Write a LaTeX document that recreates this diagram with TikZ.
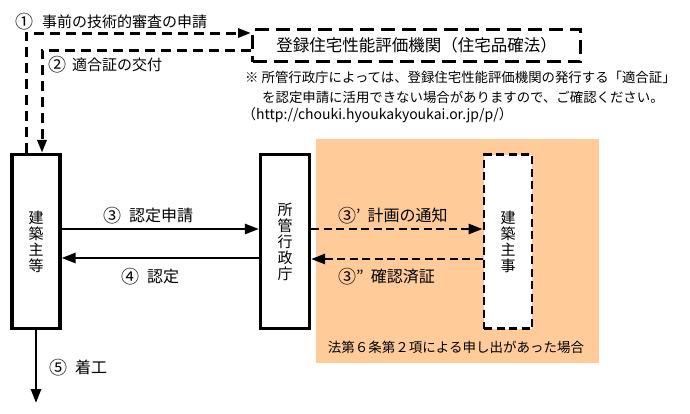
\documentclass[tikz,border=0pt]{standalone}
\usepackage{fontspec}
\setmainfont{Noto Sans CJK JP}
\usetikzlibrary{arrows.meta}
\definecolor{zonecol}{HTML}{FFCC99}
\newcommand\circnum[1]{{\fontsize{18}{18}\selectfont\raisebox{-1pt}{#1}}}
\begin{document}
\begin{tikzpicture}[x=1pt,y=-1pt,
 box/.style={draw, line width=3.2pt, minimum width=48pt, minimum height=174pt, inner sep=0pt, align=center, font=\fontsize{15}{16}\selectfont},
 dbox/.style={box, dash pattern=on 8pt off 4.5pt, line width=2.8pt, fill=white},
 tip/.style={-{Triangle[length=14pt,width=10pt]}},
 solidarrow/.style={tip, line width=2.6pt},
 dasharrow/.style={tip, line width=2.6pt, dash pattern=on 8pt off 4.5pt},
 toparrow/.style={-{Triangle[length=13pt,width=9pt]}, line width=3pt, dash pattern=on 10pt off 6pt},
 lbl/.style={inner sep=0pt, anchor=west, font=\fontsize{16}{18}\selectfont},
 lbls/.style={lbl, font=\fontsize{15}{17}\selectfont},
 note/.style={inner sep=0pt, anchor=west, font=\fontsize{13.4}{15}\selectfont},
]
\useasboundingbox (0,0) rectangle (690,413);
\node[fill=zonecol, minimum width=283pt, minimum height=224pt, inner sep=0pt] (zone) at (457.5,251) {};
\node[box] (kenchi) at (36,241.5) {建\\築\\主\\等};
\node[box, minimum width=49pt] (gyosei) at (285,241.5) {所\\管\\行\\政\\庁};
\node[dbox] (shuji) at (508,241.5) {建\\築\\主\\事};
\node[draw, line width=3pt, dash pattern=on 14pt off 7pt, minimum width=328pt, minimum height=32pt, inner sep=0pt, font=\fontsize{16.5}{18}\selectfont] (kikan) at (416.5,45.5) {登録住宅性能評価機関（住宅品確法）\hspace{12pt}};

\draw[toparrow] ([xshift=-10pt]kenchi.north) |- ([yshift=12.5pt]kikan.west);
\draw[toparrow] ([yshift=-4.5pt]kikan.west) -| ([xshift=6pt]kenchi.north);
\draw[solidarrow] ([yshift=12.5pt]kenchi.east) -- ([yshift=12.5pt]gyosei.west);
\draw[solidarrow] ([yshift=-16.5pt]gyosei.west) -- ([yshift=-16.5pt]kenchi.east);
\draw[dasharrow] ([yshift=12.5pt]gyosei.east) -- ([yshift=12.5pt]shuji.west);
\draw[dasharrow] ([yshift=-17.5pt]shuji.west) -- ([yshift=-17.5pt]gyosei.east);
\coordinate (start) at (36,403);
\draw[solidarrow] (kenchi.south) -- (start);

\node[lbls] (l1) at (15,22) {\circnum{①}\hspace{9pt}事前の技術的審査の申請};
\node[lbls] (l2) at (48,65) {\circnum{②}\hspace{6pt}適合証の交付};
\node[lbl] (l3) at (103,216) {\circnum{③}\hspace{8pt}認定申請};
\node[lbl] (l4) at (121,277) {\circnum{④}\hspace{8pt}認定};
\node[lbl] (l5) at (49,368) {\circnum{⑤}\hspace{8pt}着工};
\node[lbl] (l3a) at (338,216) {\circnum{③}’\hspace{7pt}計画の通知};
\node[lbl] (l3b) at (338,277) {\circnum{③}”\hspace{7pt}確認済証};
\node[inner sep=0pt, font=\fontsize{13.5}{15}\selectfont] (law) at (456,347) {法第６条第２項による申し出があった場合};
\node[note] (n1) at (245,77) {※ 所管行政庁によっては、登録住宅性能評価機関の発行する「適合証」};
\node[note] (n2) at (262,97) {を認定申請に活用できない場合がありますので、ご確認ください。};
\node[note, font=\fontsize{14}{15}\selectfont] (n3) at (242,115) {（http://chouki.hyoukakyoukai.or.jp/p/）};
\end{tikzpicture}
\end{document}
